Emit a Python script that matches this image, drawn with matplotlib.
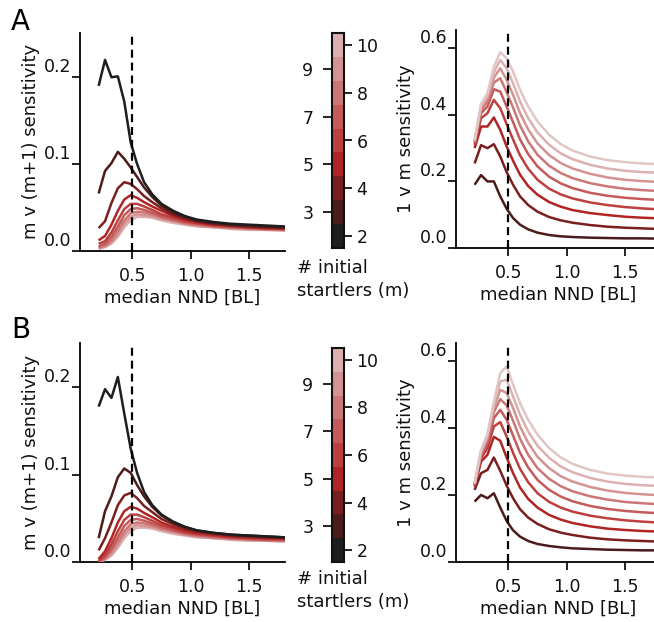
import numpy as np
import matplotlib
matplotlib.use('Agg')
import matplotlib.pyplot as plt
from matplotlib.colors import ListedColormap, BoundaryNorm
from matplotlib.transforms import ScaledTranslation

# ---------------- data ----------------
nnd = [0.21, 0.265, 0.32, 0.375, 0.43, 0.485, 0.54, 0.6, 0.67, 0.75, 0.85,
       0.95, 1.05, 1.2, 1.35, 1.5, 1.65, 1.8, 1.95]
m_values = [2, 3, 4, 5, 6, 7, 8, 9, 10]

# Panel A, m v (m+1) sensitivity (one row per m)
A_mv = [
    [0.190, 0.220, 0.200, 0.201, 0.172, 0.125, 0.100, 0.079, 0.065, 0.054, 0.046, 0.040, 0.036, 0.033, 0.031, 0.030, 0.029, 0.028, 0.028],
    [0.066, 0.092, 0.101, 0.114, 0.106, 0.096, 0.085, 0.073, 0.062, 0.052, 0.044, 0.039, 0.035, 0.032, 0.030, 0.029, 0.028, 0.027, 0.027],
    [0.026, 0.034, 0.055, 0.072, 0.079, 0.077, 0.071, 0.063, 0.056, 0.049, 0.042, 0.037, 0.034, 0.031, 0.029, 0.028, 0.027, 0.026, 0.026],
    [0.012, 0.017, 0.030, 0.046, 0.059, 0.064, 0.061, 0.056, 0.051, 0.046, 0.040, 0.036, 0.033, 0.030, 0.029, 0.027, 0.026, 0.026, 0.026],
    [0.008, 0.011, 0.021, 0.035, 0.048, 0.054, 0.054, 0.051, 0.047, 0.042, 0.038, 0.034, 0.032, 0.029, 0.028, 0.027, 0.026, 0.025, 0.025],
    [0.005, 0.008, 0.016, 0.028, 0.041, 0.048, 0.049, 0.047, 0.044, 0.040, 0.036, 0.033, 0.031, 0.029, 0.027, 0.026, 0.025, 0.025, 0.025],
    [0.004, 0.006, 0.012, 0.023, 0.035, 0.043, 0.045, 0.044, 0.042, 0.038, 0.035, 0.032, 0.030, 0.028, 0.027, 0.026, 0.025, 0.024, 0.024],
    [0.003, 0.005, 0.010, 0.019, 0.031, 0.039, 0.042, 0.041, 0.040, 0.037, 0.034, 0.031, 0.029, 0.027, 0.026, 0.025, 0.024, 0.024, 0.024],
    [0.002, 0.004, 0.008, 0.016, 0.027, 0.035, 0.039, 0.039, 0.038, 0.035, 0.032, 0.030, 0.028, 0.027, 0.025, 0.024, 0.024, 0.023, 0.023],
]

# Panel A, 1 v m sensitivity
A_1v = [
    [0.190, 0.219, 0.200, 0.200, 0.155, 0.118, 0.090, 0.070, 0.056, 0.046, 0.039, 0.035, 0.033, 0.031, 0.030, 0.029, 0.029, 0.028, 0.028],
    [0.254, 0.309, 0.300, 0.312, 0.275, 0.228, 0.190, 0.155, 0.129, 0.109, 0.093, 0.083, 0.076, 0.069, 0.064, 0.061, 0.059, 0.057, 0.056],
    [0.300, 0.365, 0.365, 0.392, 0.355, 0.305, 0.262, 0.220, 0.186, 0.160, 0.138, 0.124, 0.114, 0.105, 0.099, 0.094, 0.091, 0.089, 0.088],
    [0.310, 0.390, 0.405, 0.445, 0.420, 0.372, 0.326, 0.278, 0.238, 0.205, 0.178, 0.161, 0.149, 0.137, 0.129, 0.123, 0.119, 0.116, 0.115],
    [0.315, 0.405, 0.425, 0.477, 0.470, 0.425, 0.378, 0.326, 0.282, 0.245, 0.214, 0.194, 0.180, 0.166, 0.157, 0.151, 0.147, 0.144, 0.143],
    [0.318, 0.415, 0.440, 0.497, 0.510, 0.468, 0.422, 0.368, 0.320, 0.280, 0.247, 0.225, 0.210, 0.195, 0.185, 0.178, 0.174, 0.171, 0.170],
    [0.320, 0.422, 0.450, 0.512, 0.540, 0.505, 0.460, 0.405, 0.356, 0.314, 0.279, 0.255, 0.239, 0.223, 0.212, 0.205, 0.201, 0.198, 0.197],
    [0.322, 0.428, 0.458, 0.528, 0.565, 0.540, 0.495, 0.440, 0.390, 0.347, 0.310, 0.284, 0.267, 0.250, 0.239, 0.232, 0.228, 0.226, 0.225],
    [0.324, 0.432, 0.465, 0.545, 0.588, 0.570, 0.530, 0.475, 0.425, 0.380, 0.340, 0.312, 0.293, 0.275, 0.264, 0.258, 0.254, 0.252, 0.251],
]

# Panel B, m v (m+1) sensitivity
B_mv = [
    [0.178, 0.198, 0.188, 0.212, 0.170, 0.130, 0.102, 0.080, 0.065, 0.054, 0.046, 0.040, 0.036, 0.033, 0.031, 0.030, 0.029, 0.028, 0.028],
    [0.027, 0.058, 0.075, 0.097, 0.107, 0.102, 0.088, 0.075, 0.063, 0.053, 0.045, 0.040, 0.036, 0.033, 0.031, 0.030, 0.029, 0.028, 0.028],
    [0.013, 0.027, 0.045, 0.065, 0.076, 0.079, 0.073, 0.064, 0.057, 0.049, 0.043, 0.038, 0.035, 0.032, 0.030, 0.029, 0.028, 0.027, 0.027],
    [0.003, 0.012, 0.027, 0.045, 0.058, 0.063, 0.061, 0.056, 0.051, 0.045, 0.040, 0.036, 0.033, 0.031, 0.029, 0.028, 0.027, 0.027, 0.026],
    [0.001, 0.008, 0.020, 0.035, 0.048, 0.054, 0.054, 0.051, 0.047, 0.042, 0.038, 0.034, 0.032, 0.030, 0.028, 0.027, 0.026, 0.026, 0.025],
    [0.000, 0.005, 0.015, 0.028, 0.041, 0.048, 0.049, 0.047, 0.044, 0.040, 0.036, 0.033, 0.031, 0.029, 0.027, 0.026, 0.025, 0.025, 0.025],
    [0.000, 0.004, 0.012, 0.023, 0.035, 0.043, 0.045, 0.044, 0.042, 0.038, 0.035, 0.032, 0.030, 0.028, 0.027, 0.026, 0.025, 0.024, 0.024],
    [0.000, 0.003, 0.009, 0.019, 0.031, 0.039, 0.042, 0.041, 0.040, 0.037, 0.034, 0.031, 0.029, 0.027, 0.026, 0.025, 0.024, 0.024, 0.024],
    [0.000, 0.002, 0.007, 0.016, 0.027, 0.035, 0.039, 0.039, 0.038, 0.035, 0.032, 0.030, 0.028, 0.027, 0.025, 0.024, 0.024, 0.023, 0.023],
]

# Panel B, 1 v m sensitivity
B_1v = [
    [0.180, 0.200, 0.190, 0.205, 0.162, 0.122, 0.094, 0.075, 0.062, 0.053, 0.047, 0.043, 0.040, 0.038, 0.036, 0.035, 0.034, 0.034, 0.033],
    [0.215, 0.265, 0.275, 0.312, 0.272, 0.228, 0.190, 0.157, 0.132, 0.113, 0.097, 0.087, 0.080, 0.072, 0.067, 0.064, 0.062, 0.060, 0.059],
    [0.225, 0.300, 0.320, 0.374, 0.362, 0.312, 0.265, 0.222, 0.188, 0.162, 0.140, 0.126, 0.116, 0.106, 0.099, 0.095, 0.092, 0.090, 0.089],
    [0.228, 0.310, 0.340, 0.405, 0.418, 0.375, 0.326, 0.278, 0.238, 0.205, 0.179, 0.162, 0.150, 0.138, 0.130, 0.124, 0.120, 0.117, 0.116],
    [0.230, 0.318, 0.355, 0.430, 0.455, 0.425, 0.378, 0.326, 0.282, 0.245, 0.215, 0.195, 0.181, 0.167, 0.158, 0.152, 0.148, 0.145, 0.144],
    [0.232, 0.324, 0.365, 0.448, 0.487, 0.468, 0.422, 0.368, 0.320, 0.280, 0.248, 0.226, 0.211, 0.196, 0.186, 0.179, 0.175, 0.172, 0.171],
    [0.233, 0.328, 0.372, 0.460, 0.515, 0.505, 0.460, 0.405, 0.356, 0.314, 0.280, 0.256, 0.240, 0.224, 0.213, 0.206, 0.202, 0.199, 0.198],
    [0.234, 0.331, 0.378, 0.470, 0.540, 0.545, 0.495, 0.440, 0.390, 0.347, 0.311, 0.285, 0.268, 0.251, 0.240, 0.233, 0.229, 0.227, 0.226],
    [0.235, 0.334, 0.383, 0.478, 0.565, 0.585, 0.530, 0.475, 0.425, 0.380, 0.340, 0.312, 0.293, 0.275, 0.264, 0.258, 0.254, 0.252, 0.251],
]

critical_nnd = 0.5
mv_yticks = [0.0, 0.1, 0.2]
v1_yticks = [0.0, 0.2, 0.4, 0.6]
xticks = [0.5, 1.0, 1.5]
cbar_right_ticks = [2, 4, 6, 8, 10]
cbar_left_ticks = [3, 5, 7, 9]

# ---------------- style ----------------
band_colors = ['#1e1e1e', '#4c1b1b', '#7a1f1f', '#b02424', '#bd3f3f',
               '#c55a5a', '#cc7676', '#d49292', '#dbb0b0']
right_colors = band_colors[1:] + ['#e2c6c6']
cmap = ListedColormap(band_colors)
TXT = '#111111'
TFS = 12.5   # tick labels
LFS = 13     # axis labels

plt.rcParams['font.family'] = ['DejaVu Sans']
plt.rcParams['axes.linewidth'] = 1.3

W, H = 654, 622
fig = plt.figure(figsize=(W / 100, H / 100), dpi=100)


def fx(px):
    return px / W


def fy(py):
    return 1 - py / H


def make_axes(left, top, right, bottom):
    return fig.add_axes([fx(left), fy(bottom), fx(right) - fx(left), fy(top) - fy(bottom)])


def style_axes(ax, yticks, ylim, ylabel):
    for s in ['top', 'right']:
        ax.spines[s].set_visible(False)
    ax.set_xlim(0.05, 1.81)
    ax.set_ylim(*ylim)
    ax.set_xticks(xticks)
    ax.set_xticklabels(['%.1f' % v for v in xticks])
    ax.set_yticks(yticks)
    ax.set_yticklabels(['%.1f' % v for v in yticks])
    ax.tick_params(axis='both', length=5.8, width=1.3, labelsize=TFS, colors=TXT)
    ax.tick_params(axis='y', pad=0.5)
    ax.tick_params(axis='x', pad=6)
    off = ScaledTranslation(0, 12 / 100, fig.dpi_scale_trans)
    for t in ax.yaxis.get_major_ticks():
        t.label1.set_transform(t.label1.get_transform() + off)
    ax.set_xlabel('median NND [BL]', fontsize=LFS, color=TXT, labelpad=2.5)
    ax.set_ylabel(ylabel, fontsize=LFS, color=TXT, labelpad=3)
    ax.axvline(critical_nnd, color='black', lw=1.6, ls=(0, (3.6, 2.2)), zorder=5)


def draw_mv(ax, data):
    for i in range(len(m_values) - 1, -1, -1):
        ax.plot(nnd, data[i], color=band_colors[i], lw=1.8, zorder=3, solid_capstyle='butt')


def draw_1v(ax, data):
    for i in range(len(m_values)):
        ax.plot(nnd, data[i], color=right_colors[i], lw=1.8, zorder=3, solid_capstyle='butt')


def draw_cbar(cax):
    vals = np.array(m_values)
    edges = np.append(vals - 0.5, vals[-1] + 0.5)
    norm = BoundaryNorm(edges, cmap.N)
    cax.pcolormesh([0, 1], edges, vals.reshape(-1, 1), cmap=cmap, norm=norm)
    cax.set_xlim(0, 1)
    cax.set_ylim(edges[0], edges[-1])
    cax.set_xticks([])
    cax.yaxis.tick_right()
    cax.set_yticks(cbar_right_ticks)
    cax.set_yticklabels([str(v) for v in cbar_right_ticks])
    cax.tick_params(axis='y', length=6, width=1.3, labelsize=TFS, colors=TXT, pad=3)
    for s in cax.spines.values():
        s.set_linewidth(1.5)
        s.set_color('#111111')
    sec = cax.secondary_yaxis('left')
    sec.set_yticks(cbar_left_ticks)
    sec.set_yticklabels([str(v) for v in cbar_left_ticks])
    sec.tick_params(axis='y', length=6.5, width=1.3, labelsize=TFS, colors=TXT, pad=7)
    sec.spines['left'].set_visible(False)


rows = [
    dict(label='A', mv=A_mv, v1=A_1v, top_l=33, bot_l=250.7, top_r=30, bot_r=248,
         cb=(33, 248), text_y=259, lab_y=30),
    dict(label='B', mv=B_mv, v1=B_1v, top_l=343, bot_l=561.7, top_r=343, bot_r=561.7,
         cb=(348, 562), text_y=570, lab_y=338),
]

for r in rows:
    axl = make_axes(80, r['top_l'], 285, r['bot_l'])
    draw_mv(axl, r['mv'])
    style_axes(axl, mv_yticks, (0, 0.251), 'm v (m+1) sensitivity')

    axr = make_axes(456, r['top_r'], 661, r['bot_r'])
    draw_1v(axr, r['v1'])
    style_axes(axr, v1_yticks, (0, 0.655), '1 v m sensitivity')

    cax = make_axes(332, r['cb'][0], 344, r['cb'][1])
    draw_cbar(cax)

    fig.text(fx(297), fy(r['text_y']), '# initial\nstartlers (m)', fontsize=LFS,
             color=TXT, ha='left', va='top', linespacing=1.35)
    fig.text(fx(11), fy(r['lab_y']), r['label'], fontsize=20, color='black',
             ha='left', va='baseline')

fig.savefig('out.png', dpi=100)
